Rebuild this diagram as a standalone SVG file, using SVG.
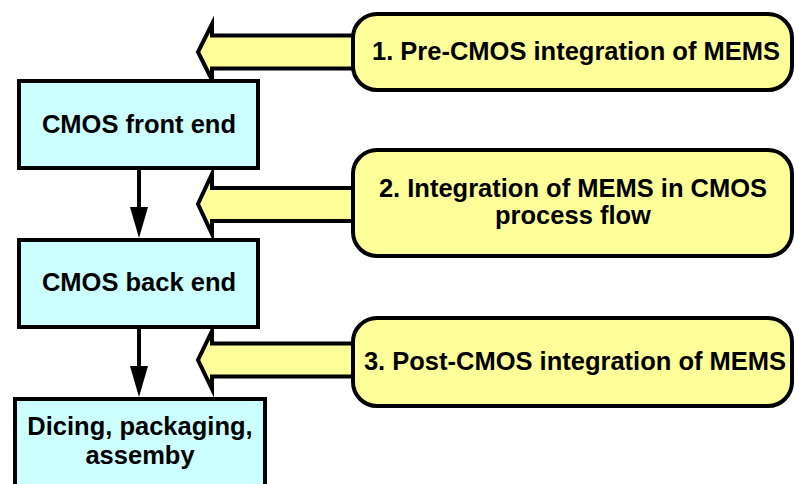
<svg xmlns="http://www.w3.org/2000/svg" width="795" height="484" viewBox="0 0 795 484">
  <defs>
    <style>
      .step { fill: #CCFFFF; stroke: #000; stroke-width: 4; }
      .option { fill: #FFFF99; stroke: #000; stroke-width: 4; }
      .block-arrow { fill: #FFFF99; stroke: #000; stroke-width: 4; stroke-linejoin: miter; stroke-miterlimit: 10; }
      .flow { stroke: #000; stroke-width: 4; fill: none; }
      .flow-head { fill: #000; }
      .label { font-family: "Liberation Sans", Arial, sans-serif; font-weight: bold; font-size: 25.5px; fill: #000; text-anchor: middle; }
    </style>
  </defs>

  <rect width="795" height="484" fill="#fff"/>

  <!-- connectors: process flow arrows and block arrows from the integration options -->
  <g id="connectors">
    <line class="flow" x1="139" y1="170" x2="139" y2="208"/>
    <path class="flow-head" d="M130,207 L148,207 L139,238 Z"/>
    <line class="flow" x1="139" y1="329" x2="139" y2="367"/>
    <path class="flow-head" d="M130,366 L148,366 L139,397 Z"/>

    <polygon class="block-arrow" points="356,35.5 212,35.5 212,24 198,52 212,80 212,68.5 356,68.5"/>
    <polygon class="block-arrow" points="356,188 212,188 212,174 198,204 212,234 212,221 356,221"/>
    <polygon class="block-arrow" points="356,343.5 212,343.5 212,331 198,360 212,389 212,376.5 356,376.5"/>
  </g>

  <!-- process steps -->
  <g id="front-end">
    <rect class="step" x="19" y="81" width="239" height="87"/>
    <text class="label" x="139" y="133">CMOS front end</text>
  </g>
  <g id="back-end">
    <rect class="step" x="19" y="240" width="239" height="87"/>
    <text class="label" x="139" y="291">CMOS back end</text>
  </g>
  <g id="packaging">
    <rect class="step" x="15" y="399" width="250" height="100"/>
    <text class="label" x="140" y="435">Dicing, packaging,</text>
    <text class="label" x="140" y="464">assemby</text>
  </g>

  <!-- MEMS integration options -->
  <g id="pre-cmos">
    <rect class="option" x="353" y="14" width="439" height="76" rx="24" ry="24"/>
    <text class="label" x="576" y="60">1. Pre-CMOS integration of MEMS</text>
  </g>
  <g id="in-cmos">
    <rect class="option" x="353" y="150" width="439" height="106" rx="24" ry="24"/>
    <text class="label" x="573" y="197">2. Integration of MEMS in CMOS</text>
    <text class="label" x="573" y="224">process flow</text>
  </g>
  <g id="post-cmos">
    <rect class="option" x="353" y="318" width="439" height="88" rx="24" ry="24"/>
    <text class="label" x="575" y="370">3. Post-CMOS integration of MEMS</text>
  </g>
</svg>
